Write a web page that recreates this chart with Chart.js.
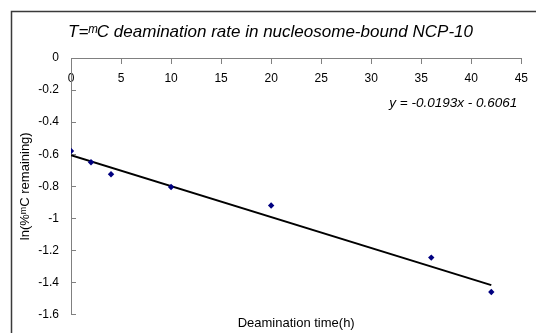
<!DOCTYPE html>
<html>
<head>
<meta charset="utf-8">
<script src="https://cdn.jsdelivr.net/npm/chart.js@4/dist/chart.umd.min.js"></script>
<style>
  body { margin: 0; background: #fff; }
  canvas { display: block; }
</style>
</head>
<body>
<canvas id="deamChart" width="536" height="333"></canvas>
<script>
const timeHours = [0, 2, 4, 10, 20, 36, 42];
const lnRemaining = [-0.58, -0.65, -0.725, -0.805, -0.92, -1.245, -1.46];

// linear trendline as printed on the chart
const slope = -0.0193;
const intercept = -0.6061;
const trendX = [0, 42];

const xTicks = [0, 5, 10, 15, 20, 25, 30, 35, 40, 45];
const yTicks = [0, -0.2, -0.4, -0.6, -0.8, -1, -1.2, -1.4, -1.6];

const FONT = "'Liberation Sans', Arial, sans-serif";

// outer frame + equation text
const extras = {
    id: 'extras',
    beforeDraw(chart) {
        const ctx = chart.ctx;
        ctx.save();
        ctx.fillStyle = '#fff';
        ctx.fillRect(0, 0, chart.width, chart.height);
        ctx.strokeStyle = '#3a3a3a';
        ctx.lineWidth = 1.5;
        ctx.strokeRect(11.5, 11.5, chart.width + 20, chart.height + 20);
        ctx.restore();
    },
    afterDatasetsDraw(chart) {
        const ctx = chart.ctx;
        const x = chart.scales.x, y = chart.scales.y;
        ctx.save();
        ctx.font = "italic 13.5px " + FONT;
        ctx.fillStyle = '#000';
        ctx.textAlign = 'right';
        ctx.textBaseline = 'middle';
        ctx.fillText('y = ' + slope + 'x - ' + Math.abs(intercept),
            x.getPixelForValue(44.6), y.getPixelForValue(-0.28));
        ctx.restore();
    }
};

const ctx = document.getElementById('deamChart').getContext('2d');
new Chart(ctx, {
    type: 'scatter',
    data: {
        datasets: [
            {
                label: 'data',
                data: timeHours.map((t, i) => ({ x: t, y: lnRemaining[i] })),
                pointStyle: 'rectRot',
                pointRadius: 3.2,
                backgroundColor: '#000080',
                borderColor: '#000080',
                borderWidth: 0
            },
            {
                label: 'trend',
                data: trendX.map(t => ({ x: t, y: slope * t + intercept })),
                showLine: true,
                borderColor: '#000',
                borderWidth: 2,
                pointRadius: 0
            }
        ]
    },
    options: {
        responsive: false,
        animation: false,
        layout: { padding: { left: 16, right: 11, top: 0, bottom: 0 } },
        plugins: {
            legend: { display: false },
            tooltip: { enabled: false },
            title: {
                display: true,
                text: 'T=\u1D50C deamination rate in nucleosome-bound NCP-10',
                color: '#000',
                font: { family: FONT, size: 17, style: 'italic', weight: 'normal' },
                padding: { top: 22, bottom: 15.6 }
            }
        },
        scales: {
            x: {
                type: 'linear',
                position: { y: 0 },
                min: 0,
                max: 45,
                afterBuildTicks: s => { s.ticks = xTicks.map(v => ({ value: v })); },
                grid: { display: true, drawOnChartArea: false, drawTicks: true, tickLength: 5, color: '#808080' },
                border: { color: '#808080', width: 1 },
                ticks: { color: '#000', padding: 8, font: { family: FONT, size: 12 }, callback: v => String(v) }
            },
            x2: {
                type: 'linear',
                position: 'bottom',
                afterFit: s => { s.height = 18.5; },
                grid: { display: false },
                border: { display: false },
                ticks: { display: false },
                title: {
                    display: true,
                    text: 'Deamination time(h)',
                    color: '#000',
                    font: { family: FONT, size: 13 },
                    padding: { top: 0, bottom: 1.5 }
                }
            },
            y: {
                type: 'linear',
                position: 'left',
                min: -1.6,
                max: 0,
                afterBuildTicks: s => { s.ticks = yTicks.map(v => ({ value: v })); },
                afterFit: s => { s.width = 55; s.paddingTop = 0; s.paddingBottom = 0; },
                grid: { display: true, drawOnChartArea: false, drawTicks: true, tickLength: -5, color: '#808080' },
                border: { color: '#808080', width: 1 },
                ticks: { color: '#000', padding: 17, font: { family: FONT, size: 12 }, callback: v => String(v) },
                title: {
                    display: true,
                    text: 'ln(%\u1D50C remaining)',
                    color: '#000',
                    font: { family: FONT, size: 13 },
                    padding: { top: 2, bottom: 0 }
                }
            }
        }
    },
    plugins: [extras]
});
</script>
</body>
</html>
